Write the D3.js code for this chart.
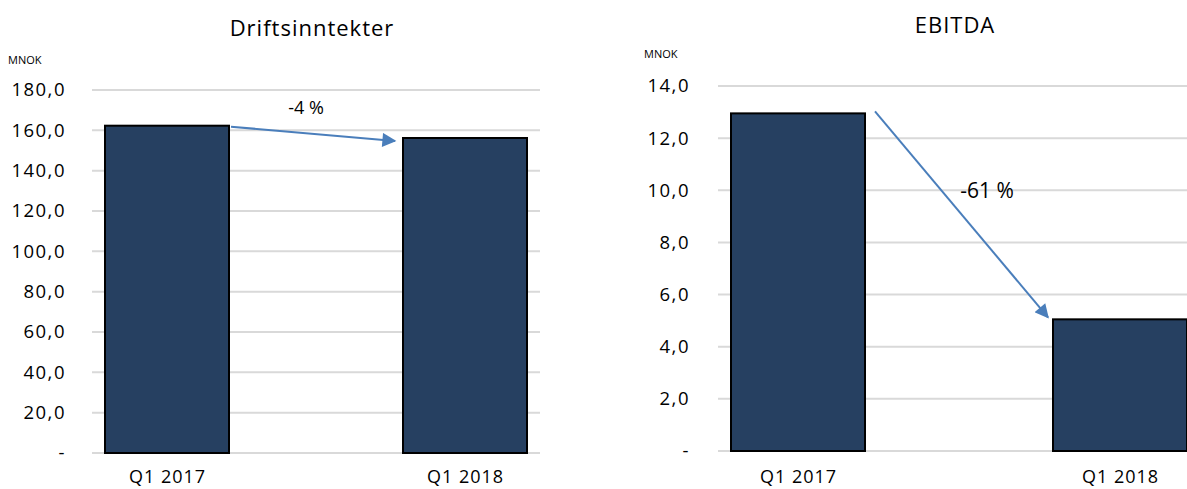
<!DOCTYPE html>
<html>
<head>
<meta charset="utf-8">
<script src="https://cdn.jsdelivr.net/npm/d3@7"></script>
<style>
  body { margin: 0; background: white; }
  text { font-family: "Open Sans", sans-serif; fill: #000; }
</style>
</head>
<body>
<div id="visualization"></div>
<script>
let w = 1187;
let h = 489;

// data
let categories = ["Q1 2017", "Q1 2018"];
let revenue = [162.3, 156.2];
let revenueTicks = [0, 20, 40, 60, 80, 100, 120, 140, 160, 180];
let ebitda = [12.95, 5.05];
let ebitdaTicks = [0, 2, 4, 6, 8, 10, 12, 14];
let changes = ["-4 %", "-61 %"];

let barColor = "#264061";
let gridColor = "#d9d9d9";
let arrowColor = "#4a7ebb";

let viz = d3.select("#visualization")
  .append("svg")
  .attr("width", w)
  .attr("height", h);

viz.append("defs").append("marker")
  .attr("id", "arrowhead")
  .attr("viewBox", "0 0 10 10")
  .attr("refX", 9)
  .attr("refY", 5)
  .attr("markerWidth", 9)
  .attr("markerHeight", 7)
  .attr("markerUnits", "strokeWidth")
  .attr("orient", "auto")
  .append("path")
  .attr("d", "M0,0 L10,5 L0,10 z")
  .attr("fill", arrowColor);

function fmt(v) {
  if (v == 0) return "-";
  return d3.format(".1f")(v).replace(".", ",");
}

function drawChart(opts) {
  let g = viz.append("g");

  let yScale = d3.scaleLinear().domain([0, d3.max(opts.ticks)]).range([opts.y0, opts.y1]);
  let xScale = d3.scalePoint().domain(categories).range(opts.centers);

  // title
  g.append("text")
    .attr("x", opts.titleX)
    .attr("y", opts.titleY)
    .attr("text-anchor", "middle")
    .style("font-size", "22px")
    .style("letter-spacing", "1px")
    .text(opts.title);

  g.append("text")
    .attr("x", opts.unitX)
    .attr("y", opts.unitY)
    .style("font-size", "11px")
    .text("MNOK");

  // gridlines
  g.selectAll(".grid").data(opts.ticks).enter()
    .append("line")
    .attr("x1", opts.gridX[0])
    .attr("x2", opts.gridX[1])
    .attr("y1", d => yScale(d))
    .attr("y2", d => yScale(d))
    .attr("stroke", gridColor)
    .attr("stroke-width", 2);

  // y labels
  let yAxis = d3.axisLeft(yScale).tickValues(opts.ticks).tickFormat(fmt).tickSize(0).tickPadding(0);
  let yAxisGroup = g.append("g").attr("transform", "translate(" + opts.labelX + ",0)").call(yAxis);
  yAxisGroup.select(".domain").remove();
  yAxisGroup.selectAll("text")
    .style("font-size", "18.5px")
    .style("font-family", "'Open Sans', sans-serif")
    .style("letter-spacing", "1.5px")
    .attr("fill", "#000");

  // bars
  g.selectAll(".bar").data(opts.values).enter()
    .append("rect")
    .attr("x", (d, i) => xScale(categories[i]) - opts.barW / 2)
    .attr("y", d => yScale(d))
    .attr("width", opts.barW)
    .attr("height", d => yScale(0) - yScale(d))
    .attr("fill", barColor)
    .attr("stroke", "#000")
    .attr("stroke-width", 2);

  // x labels
  let xAxis = d3.axisBottom(xScale).tickSize(0).tickPadding(0);
  let xAxisGroup = g.append("g").attr("transform", "translate(0," + opts.xLabelY + ")").call(xAxis);
  xAxisGroup.select(".domain").remove();
  xAxisGroup.selectAll("text")
    .style("font-size", "18px")
    .style("font-family", "'Open Sans', sans-serif")
    .style("letter-spacing", "1px")
    .attr("fill", "#000");

  // arrow between bars
  let a = opts.arrow;
  g.append("line")
    .attr("x1", xScale(categories[0]) + opts.barW / 2 + a.dx0)
    .attr("y1", yScale(opts.values[0]) + a.dy0)
    .attr("x2", xScale(categories[1]) - opts.barW / 2 + a.dx1)
    .attr("y2", yScale(opts.values[1]) + a.dy1)
    .attr("stroke", arrowColor)
    .attr("stroke-width", 2)
    .attr("marker-end", "url(#arrowhead)");

  g.append("text")
    .attr("x", a.labelX)
    .attr("y", a.labelY)
    .attr("text-anchor", "middle")
    .style("font-size", a.labelSize)
    .text(a.label);
}

drawChart({
  title: "Driftsinntekter", titleX: 312, titleY: 36,
  unitX: 8, unitY: 64,
  values: revenue, ticks: revenueTicks,
  y0: 453, y1: 90,
  centers: [167, 465], barW: 124,
  gridX: [92, 540], labelX: 66, xLabelY: 470,
  arrow: { dx0: 2, dy0: 1, dx1: -8, dy1: 3, label: changes[0], labelX: 306, labelY: 114, labelSize: "18px" }
});

drawChart({
  title: "EBITDA", titleX: 955, titleY: 33,
  unitX: 644, unitY: 58,
  values: ebitda, ticks: ebitdaTicks,
  y0: 451, y1: 86,
  centers: [798, 1120], barW: 134,
  gridX: [718, 1187], labelX: 690, xLabelY: 470,
  arrow: { dx0: 10, dy0: -2, dx1: -5, dy1: -2, label: changes[1], labelX: 987, labelY: 198, labelSize: "21px" }
});
</script>
</body>
</html>
